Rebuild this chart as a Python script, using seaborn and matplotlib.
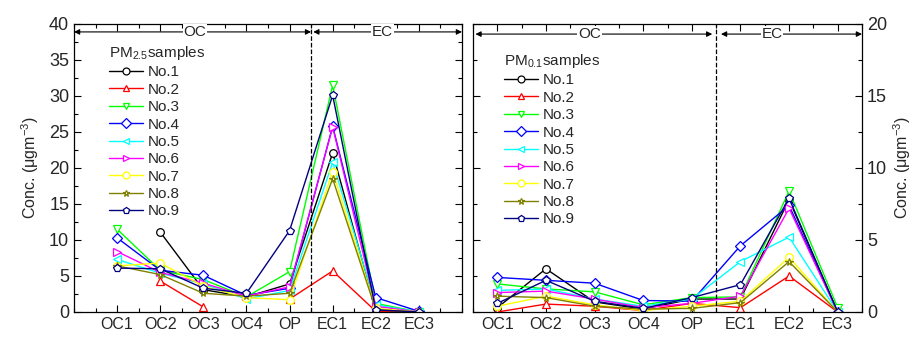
import numpy as np
import seaborn as sns
import matplotlib.pyplot as plt
from matplotlib.lines import Line2D
from matplotlib.ticker import MultipleLocator

# categories on the x axis
categories = ["OC1", "OC2", "OC3", "OC4", "OP", "EC1", "EC2", "EC3"]
labels = ["No.1", "No.2", "No.3", "No.4", "No.5", "No.6", "No.7", "No.8", "No.9"]
colors = ["black", "red", "#00ff00", "blue", "cyan", "magenta", "yellow", "#808000", "navy"]
markers = ["o", "^", "v", "D", "<", ">", "o", "*", "p"]

nan = np.nan
# PM2.5 samples (ug m-3)
pm25_no1 = [nan, 11.1, 3.1, 2.1, 3.9, 22.1, 0.3, 0.0]
pm25_no2 = [nan, 4.3, 0.7, nan, 1.8, 5.7, 0.1, 0.0]
pm25_no3 = [11.5, 5.8, 4.5, 2.1, 5.6, 31.5, 1.2, 0.0]
pm25_no4 = [10.3, 5.8, 5.1, 2.3, 3.3, 25.8, 2.0, 0.1]
pm25_no5 = [7.3, 5.4, 3.9, 1.8, 3.0, 20.8, 1.0, 0.0]
pm25_no6 = [8.4, 5.5, 4.0, 2.2, 3.5, 25.7, 0.8, 0.0]
pm25_no7 = [6.4, 6.8, 3.6, 2.0, 1.7, 19.5, 0.5, 0.0]
pm25_no8 = [6.4, 5.2, 2.6, 2.2, 2.6, 18.5, 0.3, 0.0]
pm25_no9 = [6.1, 6.0, 3.3, 2.6, 11.3, 30.1, 0.3, 0.0]

# PM0.1 samples (ug m-3)
pm01_no1 = [0.3, 3.0, 0.7, 0.2, 0.9, 0.9, 7.8, 0.0]
pm01_no2 = [0.0, 0.55, 0.4, 0.1, 0.6, 0.3, 2.5, 0.0]
pm01_no3 = [1.95, 1.6, 1.4, 0.5, 1.0, 1.05, 8.4, 0.3]
pm01_no4 = [2.4, 2.2, 2.0, 0.8, 0.75, 4.6, 7.4, 0.0]
pm01_no5 = [1.5, 1.6, 0.9, 0.4, 0.9, 3.5, 5.2, 0.0]
pm01_no6 = [1.35, 1.45, 0.9, 0.3, 0.6, 1.1, 7.2, 0.0]
pm01_no7 = [0.4, 1.1, 0.5, 0.1, 0.4, 0.75, 3.8, 0.0]
pm01_no8 = [1.1, 1.0, 0.4, 0.2, 0.25, 0.65, 3.5, 0.0]
pm01_no9 = [0.6, 2.2, 0.75, 0.25, 1.0, 1.9, 7.9, 0.0]

pm25 = [pm25_no1, pm25_no2, pm25_no3, pm25_no4, pm25_no5,
        pm25_no6, pm25_no7, pm25_no8, pm25_no9]
pm01 = [pm01_no1, pm01_no2, pm01_no3, pm01_no4, pm01_no5,
        pm01_no6, pm01_no7, pm01_no8, pm01_no9]

sns.set_style("ticks")
plt.rcParams["font.family"] = ["Liberation Sans", "DejaVu Sans"]
plt.rcParams["mathtext.fontset"] = "custom"
plt.rcParams["mathtext.rm"] = "Liberation Sans"
plt.rcParams["mathtext.it"] = "Liberation Sans"

fig = plt.figure(figsize=(9.16, 3.42), dpi=100)
ax1 = fig.add_axes([74 / 916, 30 / 342, 388 / 916, 288 / 342])
ax2 = fig.add_axes([473 / 916, 30 / 342, 389 / 916, 288 / 342])

xpos = np.arange(1, len(categories) + 1)


def draw_series(ax, values, color, marker):
    # split on missing values so the line breaks there
    vals = np.array(values, dtype=float)
    ok = ~np.isnan(vals)
    start = None
    for i in range(len(vals) + 1):
        if i < len(vals) and ok[i]:
            if start is None:
                start = i
        elif start is not None:
            sns.lineplot(x=xpos[start:i], y=vals[start:i], ax=ax, color=color,
                         marker=marker, markerfacecolor="white", markeredgecolor=color,
                         markeredgewidth=0.9, markersize=5.5, linewidth=1.0,
                         sort=False, estimator=None, legend=False)
            start = None


for vals, c, m in zip(pm25, colors, markers):
    draw_series(ax1, vals, c, m)
for vals, c, m in zip(pm01, colors, markers):
    draw_series(ax2, vals, c, m)

handles = [Line2D([], [], color=c, marker=m, markerfacecolor="white", markeredgecolor=c,
                  markeredgewidth=0.9, markersize=5, linewidth=1.0)
           for c, m in zip(colors, markers)]


def style_axes(ax, xlim, ymax, arrow_y, oc_span, ec_span, oc_x, ec_x):
    ax.set_xlim(*xlim)
    ax.set_ylim(0, ymax)
    ax.set_xticks(xpos)
    ax.set_xticklabels(categories, fontsize=11.5)
    ax.xaxis.set_minor_locator(MultipleLocator(0.5))
    ax.yaxis.set_major_locator(MultipleLocator(5))
    ax.yaxis.set_minor_locator(MultipleLocator(2.5))
    ax.tick_params(which="both", direction="in", top=True, right=True, left=True,
                   bottom=True, width=0.8, color="black")
    ax.tick_params(which="major", length=5)
    ax.tick_params(which="minor", length=3)
    ax.tick_params(axis="y", labelsize=13)
    for s in ax.spines.values():
        s.set_visible(True)
        s.set_linewidth(0.9)
        s.set_color("black")
    ax.axvline(5.5, color="black", linestyle="--", linewidth=0.9)
    for (x0, x1), tx, lab in [(oc_span, oc_x, "OC"), (ec_span, ec_x, "EC")]:
        ax.annotate("", xy=(x0, arrow_y), xytext=(x1, arrow_y),
                    arrowprops=dict(arrowstyle="<|-|>", color="black", lw=0.8,
                                    shrinkA=0, shrinkB=0, mutation_scale=8))
        ax.text(tx, arrow_y, lab, ha="center", va="center", fontsize=11,
                bbox=dict(fc="white", ec="none", pad=0.5))
    ax.set_xlabel("")


style_axes(ax1, (0, 9), 40, 38.9, (0, 5.5), (5.55, 9), 2.8, 7.15)
style_axes(ax2, (0.5, 8.5), 20, 19.3, (0.55, 5.42), (5.6, 8.5), 2.9, 6.65)

ax1.set_ylabel("Conc. ($\\mu$gm$^{-3}$)", fontsize=11.5, labelpad=6)
ax2.yaxis.set_label_position("right")
ax2.yaxis.tick_right()
ax2.tick_params(which="both", left=True, right=True, labelleft=False, labelright=True)
ax2.set_ylabel("Conc. ($\\mu$gm$^{-3}$)", fontsize=11.5, rotation=90, labelpad=3)

leg_kw = dict(frameon=False, fontsize=11, handlelength=2.2, handletextpad=0.35,
              labelspacing=0.22, alignment="left", borderaxespad=0,
              title_fontsize=11)
ax1.legend(handles, labels, title="PM$_{2.5}$samples",
           loc="upper left", bbox_to_anchor=(29 / 388, 1 - 14 / 288), **leg_kw)
ax2.legend(handles, labels, title="PM$_{0.1}$samples",
           loc="upper left", bbox_to_anchor=(25 / 389, 1 - 22 / 288), **leg_kw)

plt.savefig("out.png", dpi=100)
